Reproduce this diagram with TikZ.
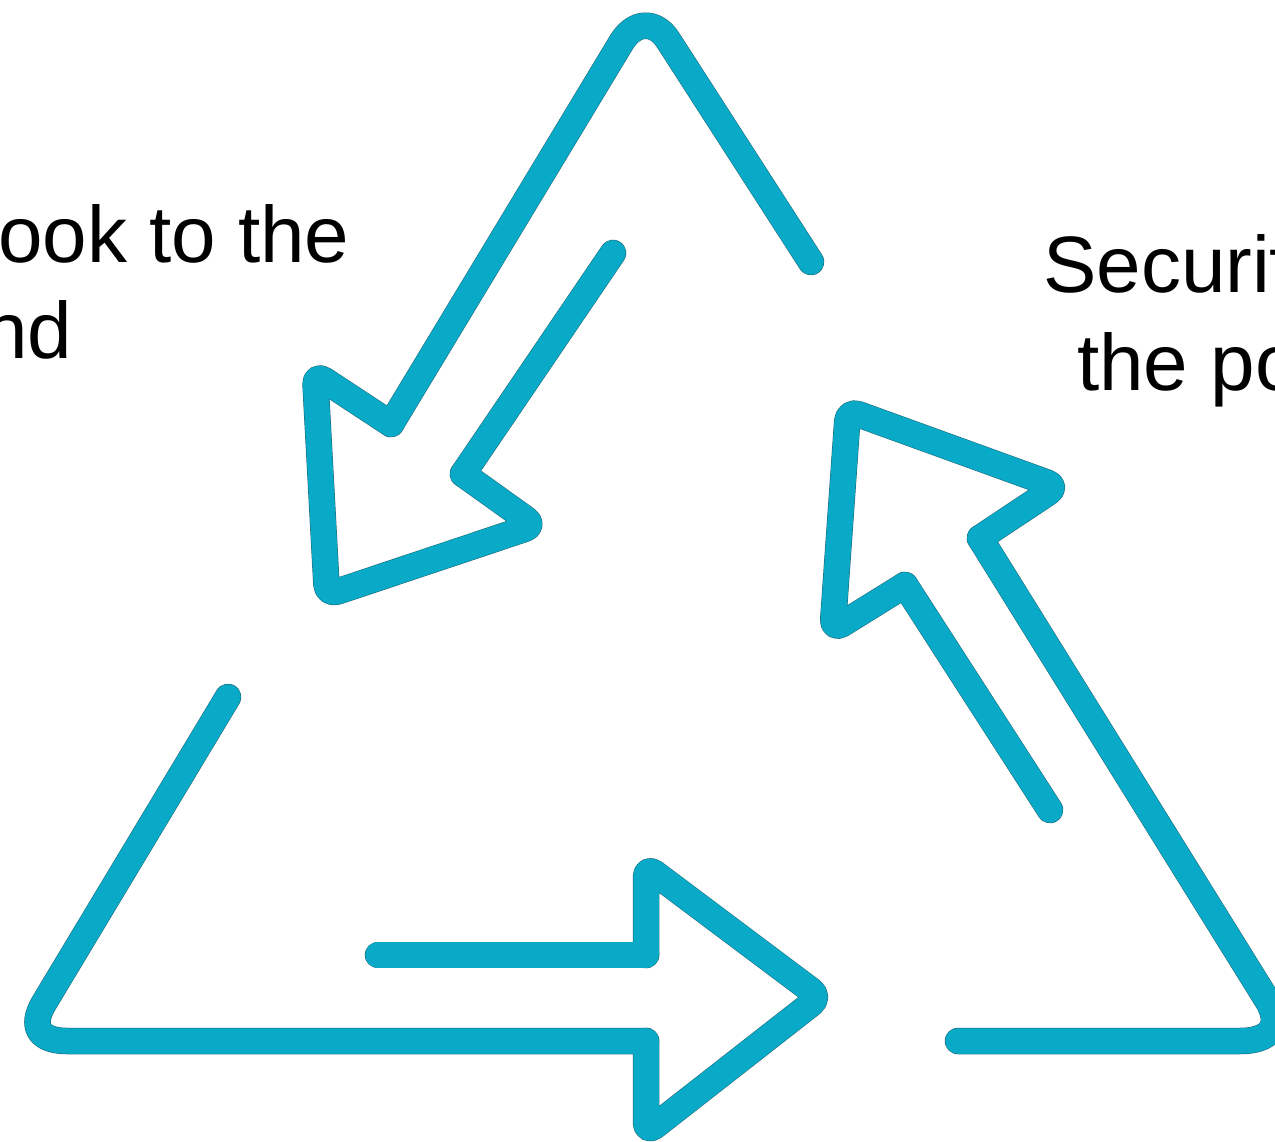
\documentclass[tikz,border=0pt]{standalone}
\usepackage{fontspec}
\setmainfont{Liberation Sans}
\definecolor{arrowteal}{RGB}{8,170,200}
\definecolor{edgeteal}{RGB}{30,100,115}
\tikzset{x=1pt,y=-1pt,
  ring/.style={draw=arrowteal,line width=25.5pt,line cap=round,line join=round},
  ringedge/.style={draw=edgeteal,line width=26.5pt,line cap=round,line join=round},
  tip/.style={rounded corners=11pt},
  lab/.style={anchor=base west,inner sep=0pt,font=\fontsize{80}{96}\selectfont,text=black}}
\begin{document}
\begin{tikzpicture}
\useasboundingbox (0,0) rectangle (1275,1142);
\clip (0,0) rectangle (1275,1142);
\fill[white] (0,0) rectangle (1275,1142);
\node[lab] (t1) at (-2,263) {ook to the};
\node[lab] (t2) at (-17,358) {nd};
\node[lab] (t3) at (1043,293) {Securit};
\node[lab] (t4) at (1077,390) {the po};
\foreach \s in {ringedge,ring}{
% top-left arrow
\path[\s] (811,262) -- (668,40) .. controls (655,20) and (634,21) .. (621,43) -- (391,424);
\path[\s,tip] (391,424) -- (315,374) -- (327,595) -- (535,525.5) -- (463,474);
\path[\s] (463,474) -- (613,253);
% bottom arrow
\path[\s] (228,697) -- (44,1003) .. controls (29,1028) and (41,1041) .. (67,1041) -- (646,1041);
\path[\s,tip] (646,1041) -- (646,1133) -- (820,997) -- (646,866.5) -- (646,955);
\path[\s] (646,955) -- (378,955);
% right arrow
\path[\s] (958,1041) -- (1240,1041) .. controls (1268,1041) and (1282,1028) .. (1269,1003) -- (980,538);
\path[\s,tip] (980,538) -- (1057.6,486.4) -- (848,410.5) -- (832.5,630) -- (905,585);
\path[\s] (905,585) -- (1050,810);
}
\end{tikzpicture}
\end{document}
